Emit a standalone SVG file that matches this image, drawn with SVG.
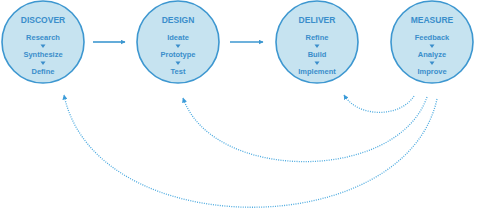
<svg xmlns="http://www.w3.org/2000/svg" width="480" height="221" viewBox="0 0 480 221">
<style>
.c{fill:#c6e3f0;stroke:#3d97d0;stroke-width:1.6}
.t{font-family:"Liberation Sans",Arial,sans-serif;font-weight:700;fill:#3a8ecb;text-anchor:middle}
.h{font-size:8.5px}
.i{font-size:7.5px}
.tri{fill:#3a8ecb}
.solid{stroke:#3d97d0;stroke-width:1.6;fill:none}
.dot{stroke:#4aa9df;stroke-width:1.3;fill:none;stroke-dasharray:1 1.3}
</style>
<defs>
<marker id="ah" viewBox="0 0 10 10" refX="9" refY="5" markerWidth="5" markerHeight="5" orient="auto" markerUnits="userSpaceOnUse">
<path d="M0,0 L10,5 L0,10 z" fill="#3d97d0"/>
</marker>
<marker id="ad" viewBox="0 0 10 10" refX="9" refY="5" markerWidth="5" markerHeight="5" orient="auto" markerUnits="userSpaceOnUse">
<path d="M0,0 L10,5 L0,10 z" fill="#3a9ad8"/>
</marker>
</defs>
<g id="connectors">
<path class="solid" d="M93,42 L125,42" marker-end="url(#ah)"/>
<path class="solid" d="M230,42 L263,42" marker-end="url(#ah)"/>
<path class="dot" d="M414,96 C400,118 358,118 344,95" marker-end="url(#ad)"/>
<path class="dot" d="M427,97 C397,183 213,183 183,98" marker-end="url(#ad)"/>
<path class="dot" d="M437,99 C405,244 95,244 64,95" marker-end="url(#ad)"/>
</g>
<g id="discover">
<circle class="c" cx="43" cy="42" r="41"/>
<text class="t h" x="43" y="23">DISCOVER</text>
<text class="t i" x="43" y="40">Research</text>
<path class="tri" d="M40.5,44.5 L45.5,44.5 L43,48 z"/>
<text class="t i" x="43" y="57">Synthesize</text>
<path class="tri" d="M40.5,61.5 L45.5,61.5 L43,65 z"/>
<text class="t i" x="43" y="74">Define</text>
</g>
<g id="design">
<circle class="c" cx="178" cy="42" r="41"/>
<text class="t h" x="178" y="23">DESIGN</text>
<text class="t i" x="178" y="40">Ideate</text>
<path class="tri" d="M175.5,44.5 L180.5,44.5 L178,48 z"/>
<text class="t i" x="178" y="57">Prototype</text>
<path class="tri" d="M175.5,61.5 L180.5,61.5 L178,65 z"/>
<text class="t i" x="178" y="74">Test</text>
</g>
<g id="deliver">
<circle class="c" cx="317" cy="42" r="41"/>
<text class="t h" x="317" y="23">DELIVER</text>
<text class="t i" x="317" y="40">Refine</text>
<path class="tri" d="M314.5,44.5 L319.5,44.5 L317,48 z"/>
<text class="t i" x="317" y="57">Build</text>
<path class="tri" d="M314.5,61.5 L319.5,61.5 L317,65 z"/>
<text class="t i" x="317" y="74">Implement</text>
</g>
<g id="measure">
<circle class="c" cx="432" cy="42" r="41"/>
<text class="t h" x="432" y="23">MEASURE</text>
<text class="t i" x="432" y="40">Feedback</text>
<path class="tri" d="M429.5,44.5 L434.5,44.5 L432,48 z"/>
<text class="t i" x="432" y="57">Analyze</text>
<path class="tri" d="M429.5,61.5 L434.5,61.5 L432,65 z"/>
<text class="t i" x="432" y="74">Improve</text>
</g>
</svg>
